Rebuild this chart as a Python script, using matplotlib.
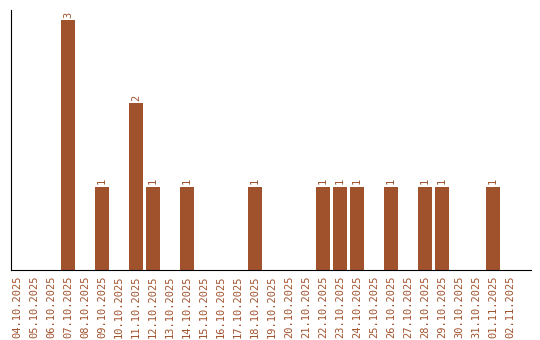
import matplotlib
matplotlib.use("Agg")
import matplotlib.pyplot as plt

dates = ["04.10.2025", "05.10.2025", "06.10.2025", "07.10.2025", "08.10.2025",
         "09.10.2025", "10.10.2025", "11.10.2025", "12.10.2025", "13.10.2025",
         "14.10.2025", "15.10.2025", "16.10.2025", "17.10.2025", "18.10.2025",
         "19.10.2025", "20.10.2025", "21.10.2025", "22.10.2025", "23.10.2025",
         "24.10.2025", "25.10.2025", "26.10.2025", "27.10.2025", "28.10.2025",
         "29.10.2025", "30.10.2025", "31.10.2025", "01.11.2025", "02.11.2025"]
counts = [0, 0, 0, 3, 0, 1, 0, 2, 1, 0, 1, 0, 0, 0, 1,
          0, 0, 0, 1, 1, 1, 0, 1, 0, 1, 1, 0, 0, 1, 0]

col = "#a0522d"

fig = plt.figure(figsize=(5.4, 3.4), dpi=100)
ax = fig.add_axes([11/540, 70/340, 520/540, 260/340])

x = list(range(len(dates)))
ax.bar(x, counts, width=0.82, color=col)
for i, v in zip(x, counts):
    if v > 0:
        ax.text(i, v + 0.03, str(v), rotation=90, ha="center", va="bottom",
                color=col, fontsize=7.5, family="DejaVu Sans Mono")

ax.set_xlim(-0.35, 30.24)
ax.set_ylim(0, 3.12)
ax.set_xticks(x)
ax.set_xticklabels(dates, rotation=90, color=col, fontsize=7.5, family="DejaVu Sans Mono")
ax.tick_params(axis="x", length=0, pad=4)
ax.set_yticks([])
ax.spines["top"].set_visible(False)
ax.spines["right"].set_visible(False)

fig.savefig("out.png", dpi=100)
